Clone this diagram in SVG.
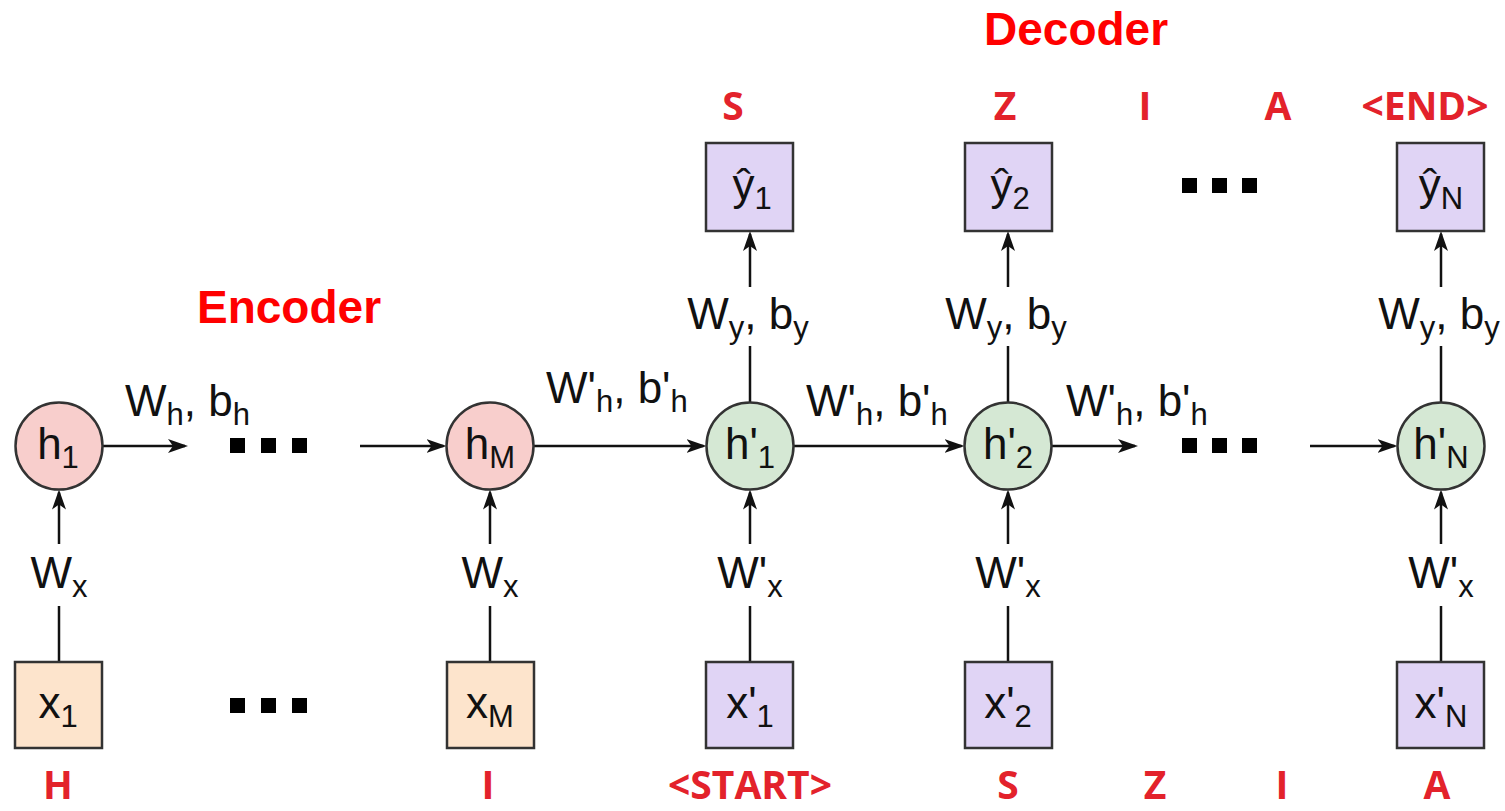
<svg xmlns="http://www.w3.org/2000/svg" width="1505" height="811" viewBox="0 0 1505 811">
  <defs>
    <marker id="arr" markerUnits="userSpaceOnUse" markerWidth="20" markerHeight="14" refX="17" refY="7" orient="auto">
      <path d="M0,0 L20,7 L0,14 L5,7 z" fill="#111"/>
    </marker>
    <style>
      .enc-c { fill: #f8cecc; stroke: #333; stroke-width: 2.5; }
      .dec-c { fill: #d5e8d4; stroke: #333; stroke-width: 2.5; }
      .in-b { fill: #fde4cc; stroke: #333; stroke-width: 2.5; }
      .dec-b { fill: #e0d4f5; stroke: #333; stroke-width: 2.5; }
      .ln { stroke: #111; stroke-width: 2.5; fill: none; }
      .lbl { font-family: "Liberation Sans", Arial, sans-serif; font-size: 44px; fill: #111; }
      .sub { font-size: 31px; }
      .title { font-family: "Liberation Sans", Arial, sans-serif; font-weight: bold; font-size: 46px; fill: #ff0000; }
      .tok { font-family: "Open Sans", "Liberation Sans", sans-serif; font-weight: bold; font-size: 39px; fill: #e3222b; text-anchor: middle; }
      .dot { fill: #000; }
    </style>
  </defs>

  <!-- section titles -->
  <text class="title" x="197" y="323">Encoder</text>
  <text class="title" x="984" y="45">Decoder</text>

  <!-- connectors -->
  <g id="connectors">
    <!-- encoder inputs -->
    <line class="ln" x1="59" y1="662" x2="59" y2="606"/>
    <line class="ln" x1="59" y1="544" x2="59" y2="492.5" marker-end="url(#arr)"/>
    <line class="ln" x1="490" y1="662" x2="490" y2="606"/>
    <line class="ln" x1="490" y1="544" x2="490" y2="492.5" marker-end="url(#arr)"/>
    <!-- decoder inputs -->
    <line class="ln" x1="750" y1="662" x2="750" y2="606"/>
    <line class="ln" x1="750" y1="544" x2="750" y2="492.5" marker-end="url(#arr)"/>
    <line class="ln" x1="1008" y1="662" x2="1008" y2="606"/>
    <line class="ln" x1="1008" y1="544" x2="1008" y2="492.5" marker-end="url(#arr)"/>
    <line class="ln" x1="1441" y1="662" x2="1441" y2="606"/>
    <line class="ln" x1="1441" y1="544" x2="1441" y2="492.5" marker-end="url(#arr)"/>
    <!-- decoder outputs -->
    <line class="ln" x1="750" y1="402.5" x2="750" y2="346"/>
    <line class="ln" x1="750" y1="287" x2="750" y2="234" marker-end="url(#arr)"/>
    <line class="ln" x1="1008" y1="402.5" x2="1008" y2="346"/>
    <line class="ln" x1="1008" y1="287" x2="1008" y2="234" marker-end="url(#arr)"/>
    <line class="ln" x1="1441" y1="402.5" x2="1441" y2="346"/>
    <line class="ln" x1="1441" y1="287" x2="1441" y2="234" marker-end="url(#arr)"/>
    <!-- recurrent links -->
    <line class="ln" x1="102.5" y1="446" x2="185" y2="446" marker-end="url(#arr)"/>
    <line class="ln" x1="360" y1="446" x2="443.5" y2="446" marker-end="url(#arr)"/>
    <line class="ln" x1="533.5" y1="446" x2="703.5" y2="446" marker-end="url(#arr)"/>
    <line class="ln" x1="793.5" y1="446" x2="961.5" y2="446" marker-end="url(#arr)"/>
    <line class="ln" x1="1051.5" y1="446" x2="1135" y2="446" marker-end="url(#arr)"/>
    <line class="ln" x1="1310" y1="446" x2="1394.5" y2="446" marker-end="url(#arr)"/>

    <!-- connector labels -->
    <text class="lbl" x="125" y="416">W<tspan class="sub" dy="9">h</tspan><tspan dy="-9">, b</tspan><tspan class="sub" dy="9">h</tspan></text>
    <text class="lbl" x="546" y="403">W'<tspan class="sub" dy="9">h</tspan><tspan dy="-9">, b'</tspan><tspan class="sub" dy="9">h</tspan></text>
    <text class="lbl" x="806" y="416">W'<tspan class="sub" dy="9">h</tspan><tspan dy="-9">, b'</tspan><tspan class="sub" dy="9">h</tspan></text>
    <text class="lbl" x="1066" y="416">W'<tspan class="sub" dy="9">h</tspan><tspan dy="-9">, b'</tspan><tspan class="sub" dy="9">h</tspan></text>

    <text class="lbl" x="59" y="588" text-anchor="middle">W<tspan class="sub" dy="9">x</tspan></text>
    <text class="lbl" x="490" y="588" text-anchor="middle">W<tspan class="sub" dy="9">x</tspan></text>
    <text class="lbl" x="750" y="588" text-anchor="middle">W'<tspan class="sub" dy="9">x</tspan></text>
    <text class="lbl" x="1008" y="588" text-anchor="middle">W'<tspan class="sub" dy="9">x</tspan></text>
    <text class="lbl" x="1441" y="588" text-anchor="middle">W'<tspan class="sub" dy="9">x</tspan></text>

    <text class="lbl" x="748" y="329" text-anchor="middle">W<tspan class="sub" dy="9">y</tspan><tspan dy="-9">, b</tspan><tspan class="sub" dy="9">y</tspan></text>
    <text class="lbl" x="1006" y="329" text-anchor="middle">W<tspan class="sub" dy="9">y</tspan><tspan dy="-9">, b</tspan><tspan class="sub" dy="9">y</tspan></text>
    <text class="lbl" x="1439" y="329" text-anchor="middle">W<tspan class="sub" dy="9">y</tspan><tspan dy="-9">, b</tspan><tspan class="sub" dy="9">y</tspan></text>
  </g>

  <!-- ellipsis markers -->
  <g id="ellipsis-enc-h">
    <rect class="dot" x="230" y="438" width="15" height="15"/>
    <rect class="dot" x="261" y="438" width="15" height="15"/>
    <rect class="dot" x="292" y="438" width="15" height="15"/>
  </g>
  <g id="ellipsis-enc-x">
    <rect class="dot" x="230" y="698" width="15" height="15"/>
    <rect class="dot" x="261" y="698" width="15" height="15"/>
    <rect class="dot" x="292" y="698" width="15" height="15"/>
  </g>
  <g id="ellipsis-dec-h">
    <rect class="dot" x="1182" y="438" width="15" height="15"/>
    <rect class="dot" x="1212" y="438" width="15" height="15"/>
    <rect class="dot" x="1242" y="438" width="15" height="15"/>
  </g>
  <g id="ellipsis-dec-y">
    <rect class="dot" x="1182" y="178" width="15" height="15"/>
    <rect class="dot" x="1212" y="178" width="15" height="15"/>
    <rect class="dot" x="1242" y="178" width="15" height="15"/>
  </g>

  <!-- encoder states -->
  <g id="h1">
    <circle class="enc-c" cx="59" cy="446" r="43.5"/>
    <text class="lbl" x="58" y="459" text-anchor="middle">h<tspan class="sub" dy="9">1</tspan></text>
  </g>
  <g id="hM">
    <circle class="enc-c" cx="490" cy="446" r="43.5"/>
    <text class="lbl" x="490" y="459" text-anchor="middle">h<tspan class="sub" dy="9">M</tspan></text>
  </g>

  <!-- decoder states -->
  <g id="hp1">
    <circle class="dec-c" cx="750" cy="446" r="43.5"/>
    <text class="lbl" x="750" y="459" text-anchor="middle">h'<tspan class="sub" dy="9">1</tspan></text>
  </g>
  <g id="hp2">
    <circle class="dec-c" cx="1008" cy="446" r="43.5"/>
    <text class="lbl" x="1008" y="459" text-anchor="middle">h'<tspan class="sub" dy="9">2</tspan></text>
  </g>
  <g id="hpN">
    <circle class="dec-c" cx="1441" cy="446" r="43.5"/>
    <text class="lbl" x="1441" y="459" text-anchor="middle">h'<tspan class="sub" dy="9">N</tspan></text>
  </g>

  <!-- encoder inputs -->
  <g id="x1">
    <rect class="in-b" x="15" y="662" width="87" height="86"/>
    <text class="lbl" x="58" y="718" text-anchor="middle">x<tspan class="sub" dy="9">1</tspan></text>
  </g>
  <g id="xM">
    <rect class="in-b" x="447" y="662" width="87" height="86"/>
    <text class="lbl" x="490" y="718" text-anchor="middle">x<tspan class="sub" dy="9">M</tspan></text>
  </g>

  <!-- decoder inputs -->
  <g id="xp1">
    <rect class="dec-b" x="706" y="662" width="87" height="86"/>
    <text class="lbl" x="750" y="718" text-anchor="middle">x'<tspan class="sub" dy="9">1</tspan></text>
  </g>
  <g id="xp2">
    <rect class="dec-b" x="965" y="662" width="87" height="86"/>
    <text class="lbl" x="1008" y="718" text-anchor="middle">x'<tspan class="sub" dy="9">2</tspan></text>
  </g>
  <g id="xpN">
    <rect class="dec-b" x="1397" y="662" width="87" height="86"/>
    <text class="lbl" x="1441" y="718" text-anchor="middle">x'<tspan class="sub" dy="9">N</tspan></text>
  </g>

  <!-- decoder outputs -->
  <g id="yhat1">
    <rect class="dec-b" x="706" y="143" width="87" height="88"/>
    <text class="lbl" x="752" y="200" text-anchor="middle">ŷ<tspan class="sub" dy="9">1</tspan></text>
  </g>
  <g id="yhat2">
    <rect class="dec-b" x="965" y="143" width="87" height="88"/>
    <text class="lbl" x="1010" y="200" text-anchor="middle">ŷ<tspan class="sub" dy="9">2</tspan></text>
  </g>
  <g id="yhatN">
    <rect class="dec-b" x="1397" y="143" width="87" height="88"/>
    <text class="lbl" x="1441" y="200" text-anchor="middle">ŷ<tspan class="sub" dy="9">N</tspan></text>
  </g>

  <!-- tokens -->
  <g id="tokens-out">
    <text class="tok" x="733" y="120">S</text>
    <text class="tok" x="1005" y="120">Z</text>
    <text class="tok" x="1145" y="120">I</text>
    <text class="tok" x="1278" y="120">A</text>
    <text class="tok" x="1425" y="120">&lt;END&gt;</text>
  </g>
  <g id="tokens-in">
    <text class="tok" x="58" y="799">H</text>
    <text class="tok" x="488" y="799">I</text>
    <text class="tok" x="750" y="799">&lt;START&gt;</text>
    <text class="tok" x="1008" y="799">S</text>
    <text class="tok" x="1155" y="799">Z</text>
    <text class="tok" x="1282" y="799">I</text>
    <text class="tok" x="1437" y="799">A</text>
  </g>
</svg>
